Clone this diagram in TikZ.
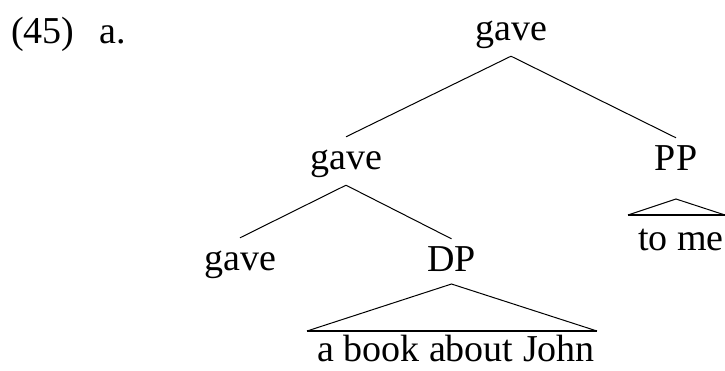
\documentclass[tikz,border=0pt]{standalone}
\usepackage{fontspec}
\setmainfont{Liberation Serif}
\begin{document}
\begin{tikzpicture}[x=1pt,y=-1pt,
  lbl/.style={inner xsep=0pt, inner ysep=9pt, text height=23pt, text depth=7pt, anchor=base, font=\fontsize{38}{44}\selectfont},
  branch/.style={line width=1pt},
  tribase/.style={line width=2.6pt}]
\useasboundingbox (0,0) rectangle (725,370);
% example number
\node[lbl, anchor=base west] (ex) at (11,43) {(45)};
\node[lbl, anchor=base west] (sub) at (99,43) {a.};
% tree nodes
\node[lbl] (top) at (511,40) {gave};
\node[lbl] (mid) at (346,169) {gave};
\node[lbl] (pp) at (676,170) {PP};
\node[lbl] (v) at (240,270) {gave};
\node[lbl] (dp) at (451.5,271) {DP};
\node[lbl, inner ysep=1pt, text depth=1pt] (abj) at (456,361) {a book about John};
\node[lbl] (tome) at (681,250) {to me};
% branches
\draw[branch] (top.south) -- (mid.north);
\draw[branch] (top.south) -- (pp.north);
\draw[branch] (mid.south) -- (v.north);
\draw[branch] (mid.south) -- (dp.north);
% triangle under DP
\coordinate (dpA) at (451.5,284);
\coordinate (dpL) at (307,331);
\coordinate (dpR) at (597,331);
\draw[branch] (dpL) -- (dpA) -- (dpR);
\draw[tribase] (dpL) -- (dpR);
% triangle under PP
\coordinate (ppA) at (676,199);
\coordinate (ppL) at (628,215);
\coordinate (ppR) at (725,215);
\draw[branch] (ppL) -- (ppA) -- (ppR);
\draw[tribase] (ppL) -- (ppR);
\end{tikzpicture}
\end{document}
